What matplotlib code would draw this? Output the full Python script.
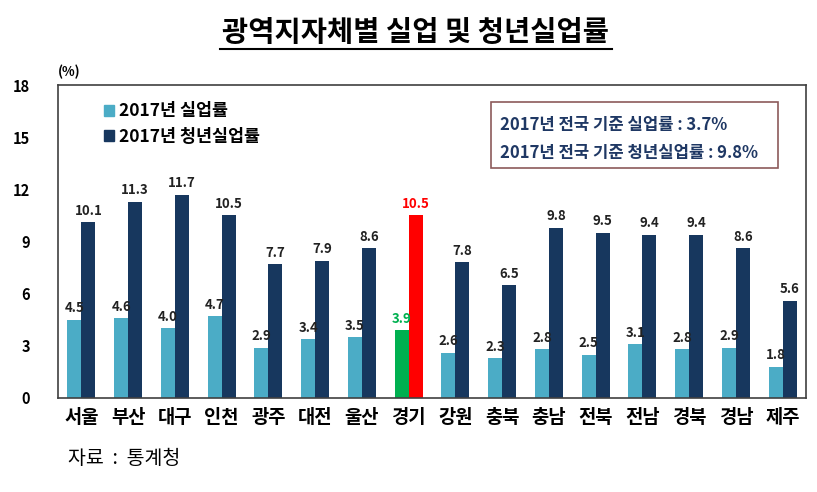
import matplotlib.pyplot as plt
import matplotlib.patches as mpatches
from matplotlib.lines import Line2D
import numpy as np

plt.rcParams['font.family'] = ['Noto Sans CJK KR', 'DejaVu Sans']

regions = ['서울', '부산', '대구', '인천', '광주', '대전', '울산', '경기',
           '강원', '충북', '충남', '전북', '전남', '경북', '경남', '제주']
unemp = [4.5, 4.6, 4.0, 4.7, 2.9, 3.4, 3.5, 3.9,
         2.6, 2.3, 2.8, 2.5, 3.1, 2.8, 2.9, 1.8]
youth = [10.1, 11.3, 11.7, 10.5, 7.7, 7.9, 8.6, 10.5,
         7.8, 6.5, 9.8, 9.5, 9.4, 9.4, 8.6, 5.6]
yticks = [0, 3, 6, 9, 12, 15, 18]
highlight = '경기'

light = '#4bacc6'
dark = '#17375e'

fig = plt.figure(figsize=(8.17, 4.92), dpi=100)
ax = fig.add_axes([58 / 817, 1 - 398 / 492, (806 - 58) / 817, (398 - 85) / 492])

x = np.arange(len(regions))
w = 0.30
c1 = ['#00b050' if r == highlight else light for r in regions]
c2 = ['#ff0000' if r == highlight else dark for r in regions]
ax.bar(x - w / 2, unemp, w, color=c1)
ax.bar(x + w / 2, youth, w, color=c2)

for i, r in enumerate(regions):
    lc = '#00b050' if r == highlight else '#222222'
    dc = '#ff0000' if r == highlight else '#222222'
    ax.text(x[i] - w / 2, unemp[i] + 0.25, f'{unemp[i]:.1f}', ha='center', va='bottom',
            fontsize=9.5, fontweight='bold', color=lc)
    ax.text(x[i] + w / 2, youth[i] + 0.25, f'{youth[i]:.1f}', ha='center', va='bottom',
            fontsize=9.5, fontweight='bold', color=dc)

ax.set_xlim(-0.5, len(regions) - 0.5)
ax.set_ylim(0, 18)
ax.set_yticks(yticks)
ax.set_yticklabels([str(v) for v in yticks], fontsize=10.5, fontweight='bold')
ax.set_xticks(x)
ax.set_xticklabels(regions, fontsize=13.5, fontweight='bold')
ax.tick_params(axis='y', length=0, pad=20)
ax.tick_params(axis='x', length=0, pad=7)
for s in ax.spines.values():
    s.set_color('#404040')
    s.set_linewidth(1.2)

ax.text(0.0, 1.02, '(%)', transform=ax.transAxes, fontsize=9.5, fontweight='bold', ha='left', va='bottom')

handles = [mpatches.Patch(color=light), mpatches.Patch(color=dark)]
ax.legend(handles, ['2017년 실업률', '2017년 청년실업률'], loc='upper left',
          bbox_to_anchor=(0.04, 0.995), frameon=False, handlelength=0.6, handleheight=0.6,
          handletextpad=0.3, labelspacing=0.45, prop={'size': 12.5, 'weight': 'bold'})

# summary box
box = mpatches.Rectangle((491 / 817, 1 - 168 / 492), (778 - 491) / 817, (168 - 102) / 492,
                         transform=fig.transFigure, fill=True, facecolor='white',
                         edgecolor='#8c5a5a', linewidth=1.2)
fig.patches.append(box)
fig.text(500 / 817, 1 - 125 / 492, '2017년 전국 기준 실업률 : 3.7%', fontsize=12,
         fontweight='bold', color='#1f3864', va='center')
fig.text(500 / 817, 1 - 153 / 492, '2017년 전국 기준 청년실업률 : 9.8%', fontsize=12,
         fontweight='bold', color='#1f3864', va='center')

fig.text(416 / 817, 1 - 33 / 492, '광역지자체별 실업 및 청년실업률', fontsize=20.5,
         fontweight='bold', ha='center', va='center')
fig.lines.append(Line2D([220 / 817, 612 / 817], [1 - 49 / 492, 1 - 49 / 492],
                        transform=fig.transFigure, color='black', linewidth=1.5))

fig.text(68 / 817, 1 - 458 / 492, '자료  :  통계청', fontsize=14, va='center')

fig.savefig('out.png', dpi=100)
